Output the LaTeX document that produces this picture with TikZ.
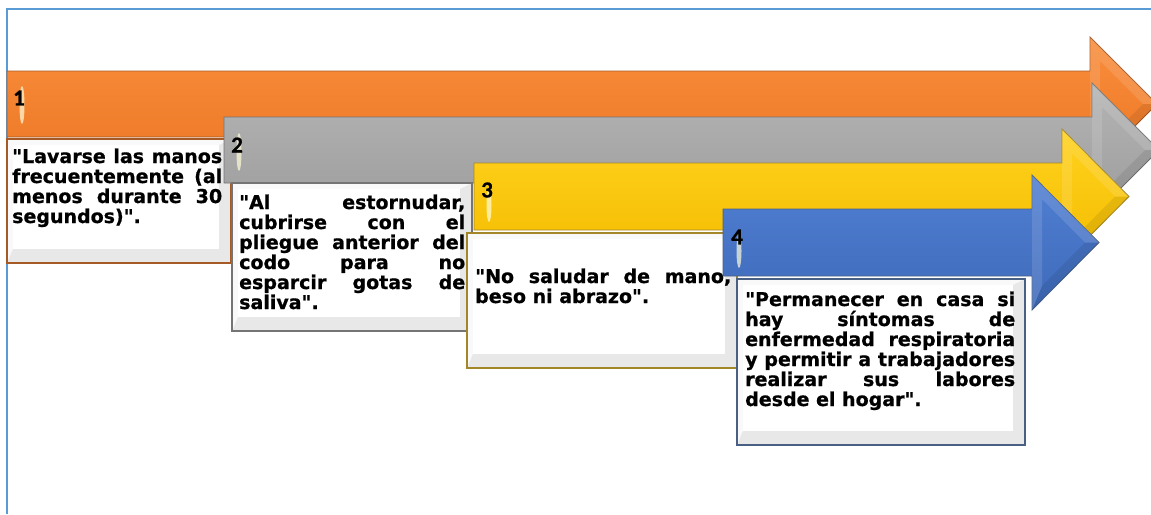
\documentclass[tikz,border=0pt]{standalone}
\usepackage{fontspec}
\setmainfont{DejaVu Sans}[BoldFeatures={FakeBold=0.8}]
\newfontfamily\numfont{Carlito}[BoldFeatures={FakeBold=0.6}]
\usepackage{tikz}
\hyphenpenalty=10000
\exhyphenpenalty=10000
\hbadness=10000

\definecolor{marco}{HTML}{5B9BD5}
\definecolor{naranjaC}{HTML}{F98D3C}
\definecolor{naranjaO}{HTML}{EC7724}
\definecolor{naranjaB}{HTML}{A65A25}
\definecolor{grisC}{HTML}{B4B4B4}
\definecolor{grisO}{HTML}{9C9C9C}
\definecolor{grisB}{HTML}{747474}
\definecolor{amarilloC}{HTML}{FFD21E}
\definecolor{amarilloO}{HTML}{F4BC00}
\definecolor{amarilloB}{HTML}{A4862A}
\definecolor{azulC}{HTML}{507FD2}
\definecolor{azulO}{HTML}{3F6ABA}
\definecolor{azulB}{HTML}{4A5F84}

\tikzset{
  texto/.style={anchor=base west, inner sep=0pt, align=justify,
    font=\bfseries\fontsize{19}{20}\selectfont},
  numero/.style={anchor=west, inner sep=0pt,
    font=\numfont\bfseries\fontsize{23}{23}\selectfont},
  brillo/.style={fill=yellow!15!white, opacity=.7},
  bisel/.style={fill=white, opacity=.12},
  sombra/.style={fill=black, opacity=.08}
}
\newcommand\cq{\textquotedbl}

\begin{document}
\begin{tikzpicture}[x=1pt,y=-1pt]
  \useasboundingbox (0,0) rectangle (1151,514);
  \clip (0,0) rectangle (1151,514);
  \draw [marco, line width=2pt] (7,514) -- (7,8.5) -- (1151,8.5);

  % paso 1
  \shade [top color=naranjaC, bottom color=naranjaO, draw=naranjaB, line width=.8pt]
    (7,71) -- (1090,71) -- (1090,37) -- (1157,104) -- (1090,171) -- (1090,137) -- (7,137) -- cycle;
  \fill [bisel] (1090,37) -- (1157,104) -- (1143,104) -- (1100,61) -- (1100,147) -- (1090,171) -- cycle;
  \fill [sombra] (1100,147) -- (1143,104) -- (1157,104) -- (1090,171) -- cycle;
  \fill [brillo] (22,105) ellipse (2.5 and 19);
  \node [numero] (n1) at (13,98) {1};
  \fill [gray!5] (7,139) rectangle (231,263);
  \fill [gray!18] (231,139) -- (219,145) -- (219,249) -- (13,249) -- (7,263) -- (231,263) -- cycle;
  \fill [white] (13,145) rectangle (219,249);
  \draw [naranjaB, line width=1.5pt] (7,139) rectangle (231,263);
  \node [texto, text width=210pt] (t1) at (12,163)
    {\cq Lavarse las manos\linebreak frecuentemente (al\linebreak menos durante 30\linebreak segundos)\cq.};

  % paso 2
  \shade [top color=grisC, bottom color=grisO, draw=grisB, line width=.8pt]
    (224,117) -- (1092,117) -- (1092,83) -- (1159,150) -- (1092,217) -- (1092,183) -- (224,183) -- cycle;
  \fill [bisel] (1092,83) -- (1159,150) -- (1145,150) -- (1102,107) -- (1102,193) -- (1092,217) -- cycle;
  \fill [sombra] (1102,193) -- (1145,150) -- (1159,150) -- (1092,217) -- cycle;
  \fill [brillo] (239,152) ellipse (2.5 and 19);
  \node [numero] (n2) at (231,145) {2};
  \fill [gray!5] (232,183) rectangle (472,331);
  \fill [gray!18] (472,183) -- (460,189) -- (460,317) -- (238,317) -- (232,331) -- (472,331) -- cycle;
  \fill [white] (238,189) rectangle (460,317);
  \draw [grisB, line width=1.5pt] (232,183) rectangle (472,331);
  \node [texto, text width=226pt] (t2) at (239,209)
    {\cq Al estornudar,\linebreak cubrirse con el\linebreak pliegue anterior del\linebreak codo para no\linebreak esparcir gotas de\linebreak saliva\cq.};

  % paso 3
  \shade [top color=amarilloC, bottom color=amarilloO, draw=amarilloB, line width=.8pt]
    (474,163) -- (1062,163) -- (1062,129) -- (1129,196.5) -- (1062,264) -- (1062,230) -- (474,230) -- cycle;
  \fill [bisel] (1062,129) -- (1129,196.5) -- (1115,196.5) -- (1072,153) -- (1072,240) -- (1062,264) -- cycle;
  \fill [sombra] (1072,240) -- (1115,196.5) -- (1129,196.5) -- (1062,264) -- cycle;
  \fill [brillo] (489,205) ellipse (2.5 and 17);
  \node [numero] (n3) at (481,190) {3};
  \fill [gray!5] (467,233) rectangle (737,368);
  \fill [gray!18] (737,233) -- (725,239) -- (725,354) -- (473,354) -- (467,368) -- (737,368) -- cycle;
  \fill [white] (473,239) rectangle (725,354);
  \draw [amarilloB, line width=1.5pt] (467,233) rectangle (737,368);
  \node [texto, text width=256pt] (t3) at (475,283)
    {\cq No saludar de mano,\linebreak beso ni abrazo\cq.};

  % paso 4
  \shade [top color=azulC, bottom color=azulO, draw=azulB, line width=.8pt]
    (723,209) -- (1032,209) -- (1032,175) -- (1099,242.5) -- (1032,310) -- (1032,276) -- (723,276) -- cycle;
  \fill [bisel] (1032,175) -- (1099,242.5) -- (1085,242.5) -- (1042,199) -- (1042,286) -- (1032,310) -- cycle;
  \fill [sombra] (1042,286) -- (1085,242.5) -- (1099,242.5) -- (1032,310) -- cycle;
  \fill [brillo] (739,251) ellipse (2.5 and 17);
  \node [numero] (n4) at (731,237) {4};
  \fill [gray!5] (737,279) rectangle (1025,445);
  \fill [gray!18] (1025,279) -- (1013,285) -- (1013,431) -- (743,431) -- (737,445) -- (1025,445) -- cycle;
  \fill [white] (743,285) rectangle (1013,431);
  \draw [azulB, line width=1.5pt] (737,279) rectangle (1025,445);
  \node [texto, text width=270pt] (t4) at (745,306)
    {\cq Permanecer en casa si\linebreak hay síntomas de\linebreak enfermedad respiratoria\linebreak y permitir a trabajadores\linebreak realizar sus labores\linebreak desde el hogar\cq.};
\end{tikzpicture}
\end{document}
